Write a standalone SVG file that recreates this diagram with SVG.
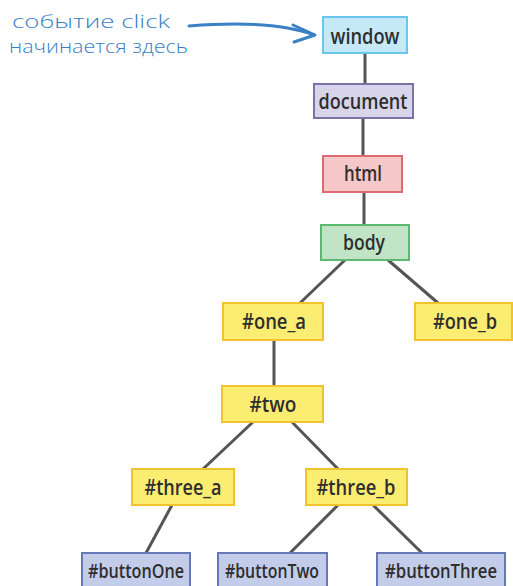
<svg xmlns="http://www.w3.org/2000/svg" width="513" height="586" viewBox="0 0 513 586">
  <style>
    .box { stroke-width: 2; }
    .lbl { font-family: "Open Sans", "DejaVu Sans", sans-serif; font-weight: 600; font-size: 21px; fill: #2e2e2e; text-anchor: middle; }
    .sm { font-size: 19px; }
    .win { fill: #c6e9f8; stroke: #6ac6ec; }
    .doc { fill: #d8d5ea; stroke: #7a73a8; }
    .htm { fill: #f6c7c9; stroke: #e06a72; }
    .bod { fill: #c0e4c5; stroke: #5db872; }
    .yel { fill: #fbec72; stroke: #f1c22e; }
    .btn { fill: #c3cce9; stroke: #6579b9; }
    .edge { stroke: #555555; stroke-width: 3; fill: none; }
    .note { font-family: "Open Sans", "Noto Sans", sans-serif; font-weight: 300; font-size: 19px; fill: #3a80c6; }
  </style>

  <rect width="513" height="586" fill="#ffffff"/>

  <!-- connectors -->
  <g id="connectors" class="edge">
    <line x1="365" y1="53" x2="365" y2="84"/>
    <line x1="363" y1="118" x2="363" y2="156"/>
    <line x1="364" y1="192" x2="364" y2="225"/>
    <line x1="345" y1="260" x2="300" y2="303"/>
    <line x1="388" y1="260" x2="438" y2="303"/>
    <line x1="274" y1="340" x2="274" y2="386"/>
    <line x1="253" y1="422" x2="203" y2="469"/>
    <line x1="292" y1="422" x2="338" y2="469"/>
    <line x1="172" y1="505" x2="146" y2="553"/>
    <line x1="338" y1="505" x2="290" y2="553"/>
    <line x1="373" y1="505" x2="422" y2="553"/>
  </g>

  <!-- annotation -->
  <g id="note">
    <text class="note" x="12" y="28" textLength="158" lengthAdjust="spacingAndGlyphs">событие click</text>
    <text class="note" x="9" y="53" textLength="179" lengthAdjust="spacingAndGlyphs">начинается здесь</text>
    <path d="M189,26 C240,22 285,24 314,35" fill="none" stroke="#3a80c6" stroke-width="3" stroke-linecap="round"/>
    <path d="M293,25 L315,35 L294,42" fill="none" stroke="#3a80c6" stroke-width="3" stroke-linecap="round" stroke-linejoin="round"/>
  </g>

  <!-- nodes -->
  <g id="window"><rect class="box win" x="323" y="17" width="84" height="36"/><text class="lbl" x="365" y="44" textLength="69" lengthAdjust="spacingAndGlyphs">window</text></g>
  <g id="document"><rect class="box doc" x="314" y="84" width="99" height="34"/><text class="lbl" x="363" y="109" textLength="89" lengthAdjust="spacingAndGlyphs">document</text></g>
  <g id="html"><rect class="box htm" x="323" y="156" width="79" height="36"/><text class="lbl" x="363" y="181" textLength="38" lengthAdjust="spacingAndGlyphs">html</text></g>
  <g id="body"><rect class="box bod" x="321" y="225" width="88" height="35"/><text class="lbl" x="364" y="250" textLength="42" lengthAdjust="spacingAndGlyphs">body</text></g>
  <g id="one_a"><rect class="box yel" x="223" y="303" width="100" height="37"/><text class="lbl" x="274" y="329" textLength="64" lengthAdjust="spacingAndGlyphs">#one_a</text></g>
  <g id="one_b"><rect class="box yel" x="415" y="303" width="97" height="37"/><text class="lbl" x="465" y="329" textLength="64" lengthAdjust="spacingAndGlyphs">#one_b</text></g>
  <g id="two"><rect class="box yel" x="222" y="386" width="101" height="36"/><text class="lbl" x="273" y="412" textLength="47" lengthAdjust="spacingAndGlyphs">#two</text></g>
  <g id="three_a"><rect class="box yel" x="132" y="469" width="102" height="36"/><text class="lbl" x="183" y="495" textLength="77" lengthAdjust="spacingAndGlyphs">#three_a</text></g>
  <g id="three_b"><rect class="box yel" x="306" y="469" width="101" height="36"/><text class="lbl" x="356" y="495" textLength="79" lengthAdjust="spacingAndGlyphs">#three_b</text></g>
  <g id="buttonOne"><rect class="box btn" x="82" y="553" width="108" height="40"/><text class="lbl sm" x="136" y="578" textLength="96" lengthAdjust="spacingAndGlyphs">#buttonOne</text></g>
  <g id="buttonTwo"><rect class="box btn" x="218" y="553" width="109" height="40"/><text class="lbl sm" x="272" y="578" textLength="94" lengthAdjust="spacingAndGlyphs">#buttonTwo</text></g>
  <g id="buttonThree"><rect class="box btn" x="377" y="553" width="128" height="40"/><text class="lbl sm" x="441" y="578" textLength="112" lengthAdjust="spacingAndGlyphs">#buttonThree</text></g>
</svg>
